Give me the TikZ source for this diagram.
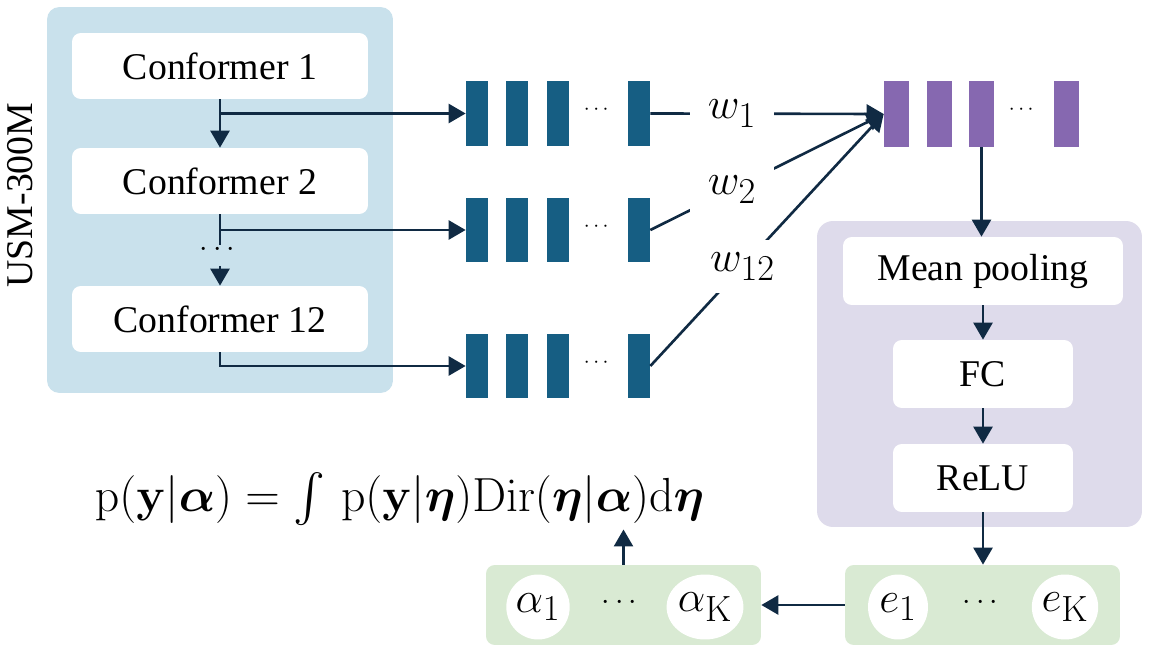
\documentclass[tikz,border=0pt]{standalone}
\usepackage{graphicx}
\usepackage{amsmath,amssymb}
\usepackage[no-math]{fontspec}
\setmainfont{Liberation Serif}
\usetikzlibrary{positioning, shapes.geometric, arrows.meta, calc}

\definecolor{usmblue}{HTML}{C9E1EC}
\definecolor{barteal}{HTML}{165E83}
\definecolor{barpurple}{HTML}{8668B0}
\definecolor{headlav}{HTML}{DEDBEB}
\definecolor{outgreen}{HTML}{D9EAD3}
\definecolor{arrownavy}{HTML}{102A43}

\begin{document}
\begin{tikzpicture}[x=0.02cm, y=-0.02cm,
    container/.style={fill=#1, rounded corners=7pt, inner sep=0pt},
    box/.style={fill=white, rounded corners=5pt, minimum height=1.32cm, inner sep=0pt, font=\fontsize{21.5}{26}\selectfont},
    bar/.style={fill=barteal, minimum width=0.44cm, minimum height=1.3cm, inner sep=0pt},
    pbar/.style={fill=barpurple, minimum width=0.5cm, minimum height=1.32cm, inner sep=0pt},
    elem/.style={ellipse, fill=white, minimum width=1.2cm, minimum height=1.3cm, inner sep=0pt, font=\fontsize{24.88}{30}\selectfont},
    wlbl/.style={fill=white, inner xsep=0.36cm, inner ysep=0.25cm, font=\fontsize{24.88}{30}\selectfont},
    dotlbl/.style={inner sep=1pt, font=\fontsize{#1}{#1}\selectfont},
    arrow/.style={-{Triangle[length=0.34cm, width=0.38cm]}, line width=1.5pt, draw=arrownavy},
    link/.style={line width=1.5pt, draw=arrownavy}
]
    \useasboundingbox (0,0) rectangle (1149,658);

    % ================= USM-300M ENCODER =================
    \node[container=usmblue, minimum width=6.92cm, minimum height=7.72cm] (USM) at (220,200) {};
    \node[rotate=90, font=\fontsize{21.5}{26}\selectfont] (USMlbl) at (20,195) {USM-300M};

    \node[box, minimum width=5.92cm] (Conf1) at (220,66) {Conformer 1};
    \node[box, minimum width=5.92cm] (Conf2) at (220,181) {Conformer 2};
    \node[box, minimum width=5.92cm] (Conf12) at (220,319) {Conformer 12};

    \coordinate (DotsTop) at (220,245);
    \coordinate (DotsBot) at (220,266);
    \node[dotlbl=17] (ConfDots) at (220,250) {$\cdots$};

    % ================= LAYER OUTPUTS =================
    \node[bar] (R1a) at (477,113.5) {};
    \node[bar] (R1b) at (517,113.5) {};
    \node[bar] (R1c) at (558,113.5) {};
    \node[dotlbl=12] (R1dots) at (598,110) {$\cdots$};
    \node[bar] (R1d) at (639,113.5) {};

    \node[bar] (R2a) at (477,230) {};
    \node[bar] (R2b) at (517,230) {};
    \node[bar] (R2c) at (558,230) {};
    \node[dotlbl=12] (R2dots) at (598,226.5) {$\cdots$};
    \node[bar] (R2d) at (639,230) {};

    \node[bar] (R3a) at (477,366) {};
    \node[bar] (R3b) at (517,366) {};
    \node[bar] (R3c) at (558,366) {};
    \node[dotlbl=12] (R3dots) at (598,362.5) {$\cdots$};
    \node[bar] (R3d) at (639,366) {};

    % weighted sum
    \node[pbar] (P1) at (896.5,114) {};
    \node[pbar] (P2) at (939.5,114) {};
    \node[pbar] (P3) at (981.5,114) {};
    \node[dotlbl=12] (Pdots) at (1023,110) {$\cdots$};
    \node[pbar] (P4) at (1066.5,114) {};

    % ================= HEAD =================
    \node[container=headlav, minimum width=6.5cm, minimum height=6.12cm, rounded corners=9pt] (Head) at (979.5,374) {};
    \node[box, minimum width=5.6cm, minimum height=1.36cm] (MeanPool) at (983,271) {Mean pooling};
    \node[box, minimum width=3.6cm, minimum height=1.36cm] (FC) at (983,374) {FC};
    \node[box, minimum width=3.6cm, minimum height=1.36cm] (ReLU) at (983,478) {ReLU};

    % ================= OUTPUTS =================
    \node[container=outgreen, minimum width=5.5cm, minimum height=1.6cm, rounded corners=5pt] (Ebox) at (982.5,605) {};
    \node[elem] (E1) at (898,607) {$e_1$};
    \node[dotlbl=18] (Edots) at (983,603) {$\cdots$};
    \node[elem] (EK) at (1065,607) {$e_{\mathrm{K}}$};

    \node[container=outgreen, minimum width=5.5cm, minimum height=1.6cm, rounded corners=5pt] (Abox) at (623.5,605) {};
    \node[elem] (A1) at (538,607) {$\alpha_1$};
    \node[dotlbl=18] (Adots) at (622,603) {$\cdots$};
    \node[elem] (AK) at (705,607) {$\alpha_{\mathrm{K}}$};

    \node[anchor=base, inner sep=2pt, font=\fontsize{24.88}{30}\selectfont] (Formula) at (399.5,511)
        {\scalebox{1.095}{$\mathrm{p}(\mathbf{y}|\boldsymbol{\alpha}) = \int\, \mathrm{p}(\mathbf{y}|\boldsymbol{\eta})\mathrm{Dir}(\boldsymbol{\eta}|\boldsymbol{\alpha})\mathrm{d}\boldsymbol{\eta}$}};

    % ================= DRAW CONNECTIONS =================
    \draw[arrow] (Conf1.south) -- (Conf2.north);
    \draw[link] (Conf2.south) -- (DotsTop);
    \draw[arrow] (DotsBot) -- (Conf12.north);

    \draw[arrow] (Conf1.south |- R1a.west) -- (R1a.west);
    \draw[arrow] (Conf2.south |- R2a.west) -- (R2a.west);
    \draw[arrow] (Conf12.south) |- (R3a.west);

    % layer weights
    \draw[arrow] (R1d.east) -- (P1.west) node[wlbl, pos=0.35] {$w_1$};
    \draw[arrow] (R2d.east) -- (P1.west) node[wlbl, pos=0.35] {$w_2$};
    \draw[arrow] (R3d.east) -- (P1.west) node[wlbl, pos=0.395] {$w_{12}$};

    \draw[arrow] (P3.south) -- (P3.south |- MeanPool.north);
    \draw[arrow] (MeanPool.south) -- (FC.north);
    \draw[arrow] (FC.south) -- (ReLU.north);
    \draw[arrow] (ReLU.south) -- (ReLU.south |- Ebox.north);
    \draw[arrow] (Ebox.west) -- (Abox.east);
    \draw[arrow] (Abox.north) -- (Abox.north |- Formula.south);

\end{tikzpicture}
\end{document}
